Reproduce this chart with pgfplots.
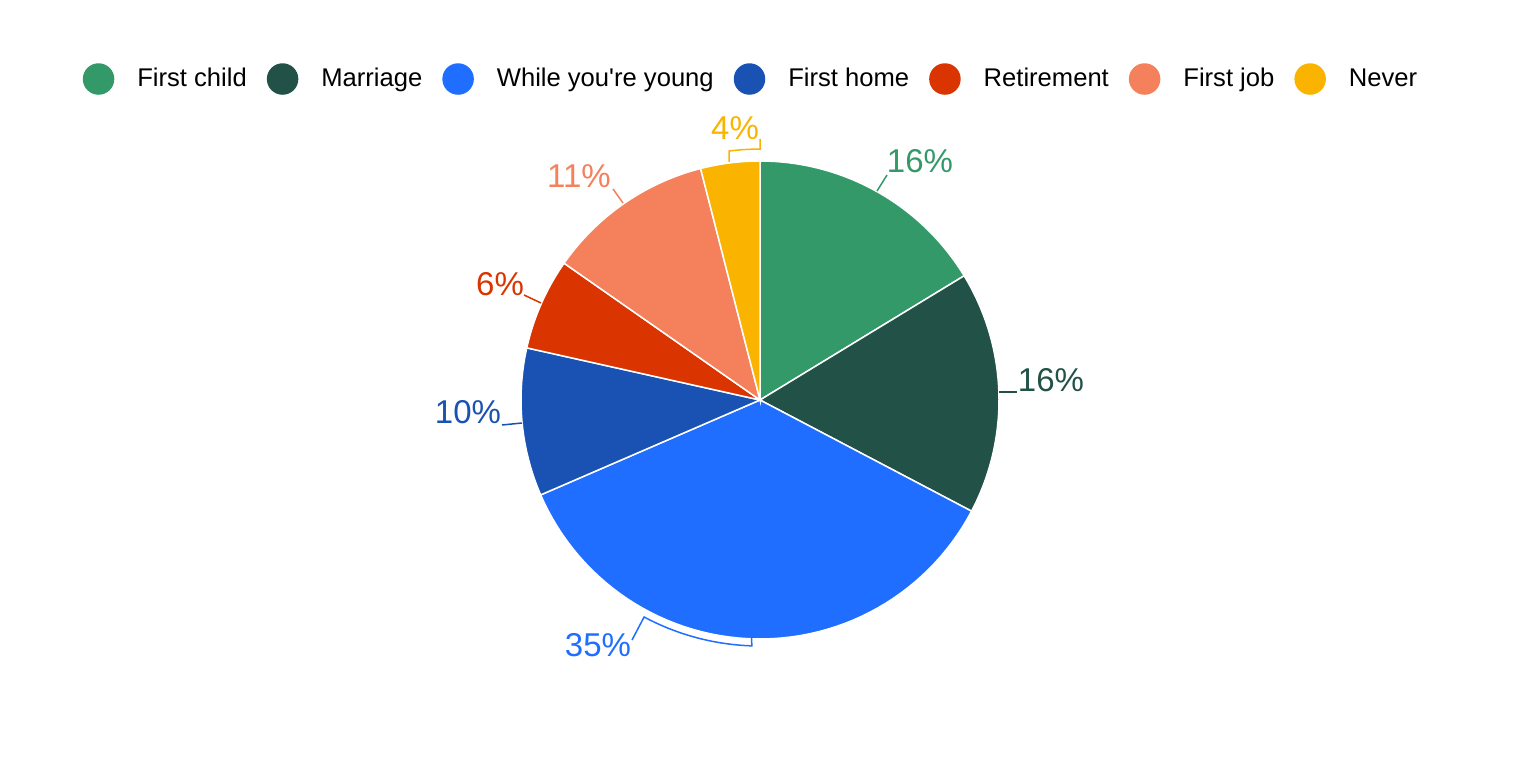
\documentclass[border=0pt]{standalone}
\usepackage{fontspec}
\setmainfont{Liberation Sans}
\usepackage{pgfplots}
\pgfplotsset{compat=1.18}

\definecolor{cGreen}{RGB}{52,153,104}
\definecolor{cDark}{RGB}{34,82,71}
\definecolor{cBlue}{RGB}{31,110,255}
\definecolor{cNavy}{RGB}{26,82,180}
\definecolor{cRed}{RGB}{218,52,0}
\definecolor{cSalmon}{RGB}{245,128,92}
\definecolor{cYellow}{RGB}{250,180,0}

\pgfplotsset{
  slice/.style={fill=#1, draw=white, line width=0.75pt,
    legend image code/.code={\fill[#1] (0pt,0pt) circle (7.5pt);}},
}

% one wedge: #1 share before it, #2 its share (percent), #3 colour, #4 name
% clockwise from 12 o'clock, centre (760,362), radius 238 (pixel units)
\newcommand{\slice}[4]{%
  \pgfmathsetmacro\lo{90-3.6*(#1+#2)}%
  \pgfmathsetmacro\hi{90-3.6*#1}%
  \addplot[slice=#3, domain=\lo:\hi, samples=60]
    ({760+239*cos(x)}, {362+239*sin(x)}) -- (axis cs:760,362) -- cycle;
  \addlegendentry{#4}%
}

\newcommand{\pct}{\fontsize{16.5pt}{19pt}\selectfont}

\begin{document}
\begin{tikzpicture}
\useasboundingbox (0,0) rectangle (760pt,381pt);
\begin{axis}[
    scale only axis,
    width=760pt, height=381pt,
    xmin=0, xmax=1520, ymin=0, ymax=762,
    hide axis,
    clip=false,
    legend columns=-1,
    legend cell align=left,
    legend style={
      at={(rel axis cs:0.49342,0.8963)}, anchor=center,
      draw=none, fill=none, inner sep=0pt,
      font=\fontsize{12.8pt}{15pt}\selectfont,
      nodes={inner sep=0pt},
      /tikz/every odd column/.append style={column sep=11.5pt},
      /tikz/every even column/.append style={column sep=10pt},
    },
]
\slice{0}{16.3}{cGreen}{First child}
\slice{16.3}{16.4}{cDark}{Marriage}
\slice{32.7}{35.8}{cBlue}{While you\textquotesingle re young}
\slice{68.5}{10.0}{cNavy}{First home}
\slice{78.5}{6.2}{cRed}{Retirement}
\slice{84.7}{11.3}{cSalmon}{First job}
\slice{96.0}{4.0}{cYellow}{Never}

% labels and leader lines
\begin{scope}[line width=0.75pt]
\node[text=cGreen, font=\pct] at (axis cs:920,601) {16\%};
\draw[cGreen] (axis cs:877,571) -- (axis cs:887,587);

\node[text=cDark, font=\pct] at (axis cs:1051,382) {16\%};
\draw[cDark] (axis cs:999,370) -- (axis cs:1017,370);

\node[text=cBlue, font=\pct] at (axis cs:598,117) {35\%};
\draw[cBlue] (axis cs:632,122) -- (axis cs:644.1,145)
  arc[start angle=-118.1, end angle=-91.9, radius=123pt]
  -- (axis cs:751.6,124);

\node[text=cNavy, font=\pct] at (axis cs:468,350) {10\%};
\draw[cNavy] (axis cs:502,337) -- (axis cs:522,339);

\node[text=cRed, font=\pct] at (axis cs:500,478) {6\%};
\draw[cRed] (axis cs:524,467) -- (axis cs:541,459);

\node[text=cSalmon, font=\pct] at (axis cs:579,586) {11\%};
\draw[cSalmon] (axis cs:613,573) -- (axis cs:623,559);

\node[text=cYellow, font=\pct] at (axis cs:735,634) {4\%};
\draw[cYellow] (axis cs:729,600) -- (axis cs:729,611)
  arc[start angle=97.1, end angle=90, radius=125.5pt]
  -- (axis cs:760,623);
\end{scope}
\end{axis}
\end{tikzpicture}
\end{document}
